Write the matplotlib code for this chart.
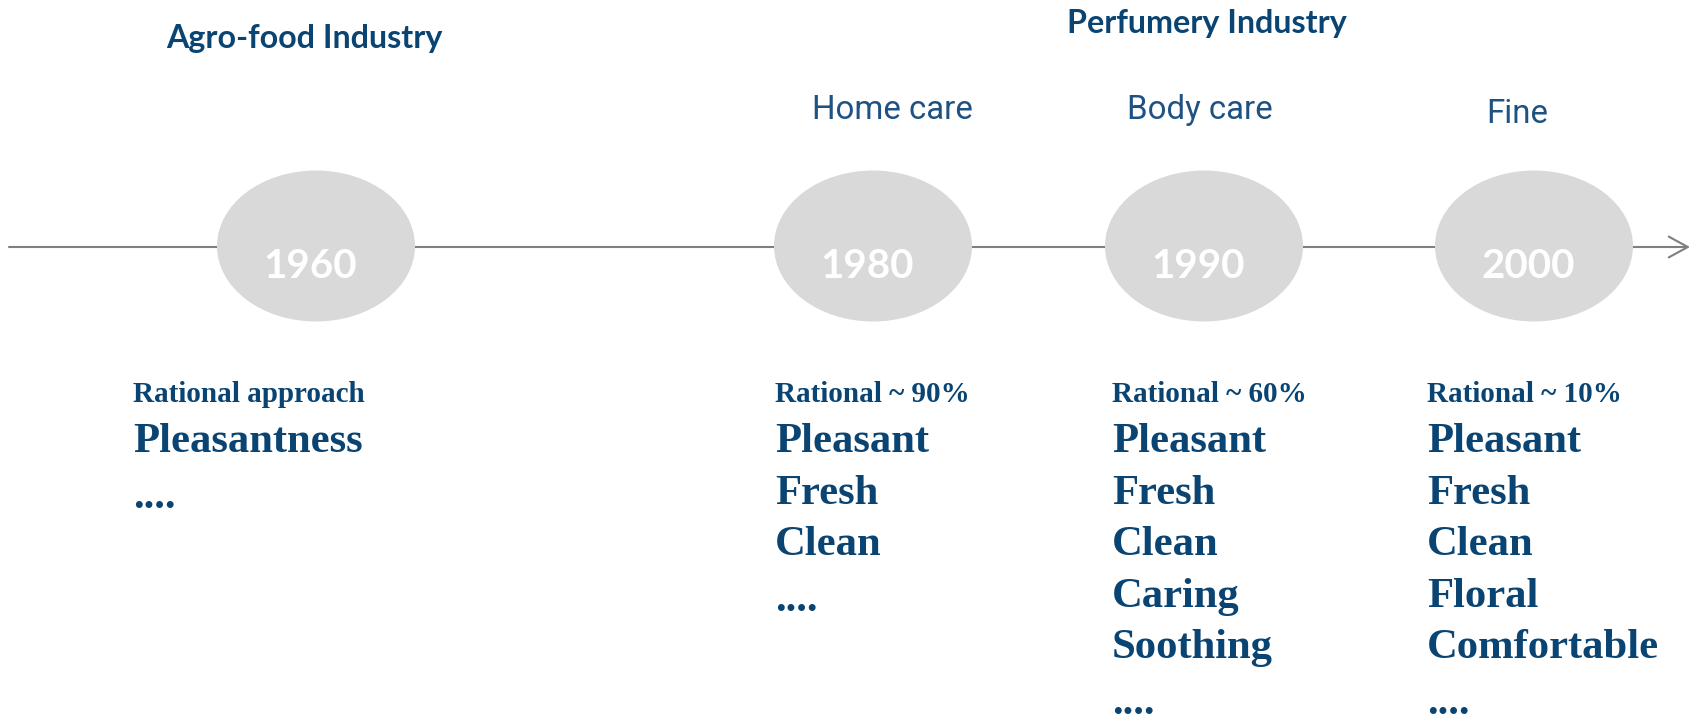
import matplotlib.pyplot as plt
from matplotlib.patches import Ellipse

# ---- data ----
industries = ["Agro-food Industry", "Perfumery Industry"]
years = ["1960", "1980", "1990", "2000"]
segments = ["", "Home care", "Body care", "Fine"]
rational = ["Rational approach", "Rational ~ 90%", "Rational ~ 60%", "Rational ~ 10%"]
descriptors = [
    ["Pleasantness"],
    ["Pleasant", "Fresh", "Clean"],
    ["Pleasant", "Fresh", "Clean", "Caring", "Soothing"],
    ["Pleasant", "Fresh", "Clean", "Floral", "Comfortable"],
]

# ---- layout (pixels, figure is 1696 x 720) ----
W, H = 1696, 720
node_x = [316, 873, 1204, 1534]
node_y = 246
col_x = [133, 775, 1112, 1427]
industry_pos = [(166, 48), (1067, 33)]
segment_pos = [None, (812, 119), (1127, 119), (1486, 123)]

DARK = "#0a4472"
SEG = "#1f5283"

fig = plt.figure(figsize=(W / 100, H / 100), dpi=100)
ax = fig.add_axes([0, 0, 1, 1])
ax.set_xlim(0, W)
ax.set_ylim(H, 0)
ax.axis("off")

# timeline arrow
ax.annotate("", xy=(1690, 247), xytext=(9, 247),
            arrowprops=dict(arrowstyle="->,head_length=0.55,head_width=0.3",
                            color="#7f7f7f", lw=1.5, mutation_scale=25,
                            shrinkA=0, shrinkB=0), zorder=1)

# year nodes
for x, yr in zip(node_x, years):
    ax.add_patch(Ellipse((x, node_y), 198, 151, facecolor="#d9d9d9",
                         edgecolor="none", zorder=2))
    ax.text(x - 6, 278, yr, ha="center", va="baseline", color="white",
            fontsize=29, fontweight="bold", family="Lato", zorder=3)

# industry headers
for (x, y), name in zip(industry_pos, industries):
    ax.text(x, y, name, ha="left", va="baseline", color=DARK,
            fontsize=23.2, fontweight="bold", family="Lato")

# segment labels
for pos, seg in zip(segment_pos, segments):
    if pos is None:
        continue
    ax.text(pos[0], pos[1], seg, ha="left", va="baseline", color=SEG,
            fontsize=23.8, family="Roboto")

# columns of descriptors
y0, step = 452, 51.6
for x, rat, words in zip(col_x, rational, descriptors):
    ax.text(x, 402, rat, ha="left", va="baseline", color=DARK,
            fontsize=21, fontweight="bold", family="Liberation Serif")
    for k, w in enumerate(words):
        ax.text(x, y0 + k * step, w, ha="left", va="baseline", color=DARK,
                fontsize=30.7, fontweight="bold", family="Liberation Serif")
    ax.text(x, y0 + len(words) * step + 4, "....", ha="left", va="baseline",
            color=DARK, fontsize=30.7, fontweight="bold",
            family="Liberation Serif")

fig.savefig("out.png", dpi=100)
